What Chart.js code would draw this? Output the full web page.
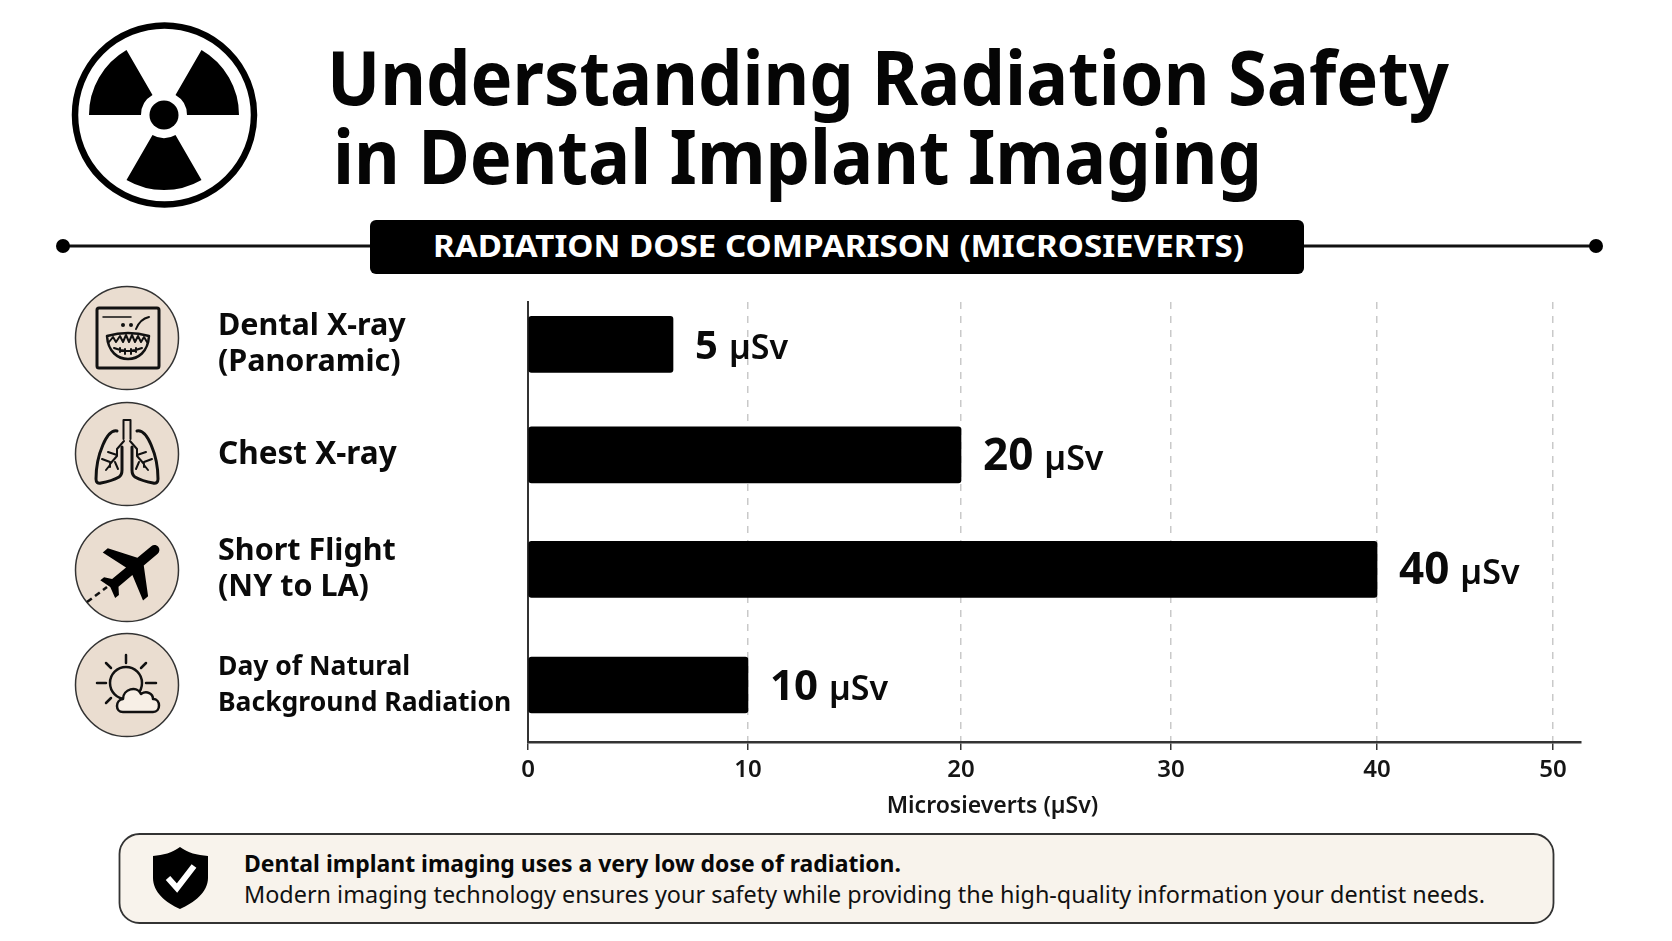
<!DOCTYPE html>
<html lang="en">
<head>
<meta charset="utf-8">
<title>Understanding Radiation Safety in Dental Implant Imaging</title>
<script src="https://cdn.jsdelivr.net/npm/chart.js@4/dist/chart.umd.js"></script>
<style>
html,body{margin:0;padding:0;background:#fff;width:1672px;height:941px;overflow:hidden}
#stage{position:relative;width:1672px;height:941px}
#stage canvas,#stage svg{position:absolute;left:0;top:0}
svg text{font-family:"Noto Sans",sans-serif}
</style>
</head>
<body>
<div id="stage">
<svg width="1672" height="941" viewBox="0 0 1672 941" xmlns="http://www.w3.org/2000/svg">
  <!-- radiation emblem -->
  <circle cx="164.5" cy="115" r="89.5" fill="none" stroke="#000" stroke-width="6.500"/>
  <circle cx="164" cy="115" r="14.5" fill="#000"/>
  <path fill="#000" d="M89 115A75 75 0 0 1 126.500 50L152.500 95.100A23 23 0 0 0 141 115Z"/>
  <path fill="#000" d="M201.500 50A75 75 0 0 1 239 115L187 115A23 23 0 0 0 175.500 95.100Z"/>
  <path fill="#000" d="M201.500 180A75 75 0 0 1 126.500 180L152.500 134.900A23 23 0 0 0 175.500 134.900Z"/>

  <text x="327" y="104.500" font-size="76" font-weight="700" fill="#050505" textLength="1122" lengthAdjust="spacingAndGlyphs">Understanding Radiation Safety</text>
  <text x="333" y="183.500" font-size="76" font-weight="700" fill="#050505" textLength="929" lengthAdjust="spacingAndGlyphs">in Dental Implant Imaging</text>

  <!-- banner -->
  <line x1="63" y1="246" x2="1596" y2="246" stroke="#111" stroke-width="3"/>
  <circle cx="63" cy="246" r="7" fill="#000"/>
  <circle cx="1596" cy="246" r="7" fill="#000"/>
  <rect x="370" y="220" width="934" height="54" rx="6" fill="#000"/>
  <text x="433" y="257" font-size="31" font-weight="700" fill="#fff" textLength="811" lengthAdjust="spacingAndGlyphs">RADIATION DOSE COMPARISON (MICROSIEVERTS)</text>

  <!-- category icons -->
  <g stroke="#333" stroke-width="1.500" fill="#eaddd0">
    <circle cx="127" cy="338" r="51.500"/>
    <circle cx="127" cy="454" r="51.500"/>
    <circle cx="127" cy="570" r="51.500"/>
    <circle cx="127" cy="685" r="51.500"/>
  </g>
  <g transform="translate(128 338)" fill="none" stroke="#111" stroke-width="2.500" stroke-linecap="round" stroke-linejoin="round">
    <rect x="-31" y="-30" width="62" height="60" rx="2" stroke-width="3"/>
    <path d="M-25 -21H3" stroke-width="1.500"/>
    <path d="M8 -9Q12 -19 21 -21" stroke-width="2"/>
    <circle cx="-5" cy="-13" r="2" fill="#111" stroke="none"/><circle cx="3" cy="-13" r="2" fill="#111" stroke="none"/>
    <path d="M-21 -2Q0 -8 21 -2C20 14 10 21 0 21C-10 21 -20 14 -21 -2Z" stroke-width="2.500"/>
    <path d="M-19 4L-15 -1L-12 4L-8 -2L-5 4L-2 -3L1 4L4 -3L7 4L10 -2L13 4L16 -1L19 4" stroke-width="2"/>
    <path d="M-14 10Q0 16 14 10M-8 10V14M-3 11V16M3 11V16M8 10V14" stroke-width="2"/>
  </g>
  <g transform="translate(127 453)" fill="none" stroke="#111" stroke-width="3" stroke-linecap="round" stroke-linejoin="round">
    <path d="M-3.500 -14V-33H3.500V-14" stroke-width="2"/>
    <path d="M-10 -22C-20 -24 -31 2 -31 26Q-31 31 -26 30Q-15 28 -8 24Q-5 22 -5 17V-6M10 -22C20 -24 31 2 31 26Q31 31 26 30Q15 28 8 24Q5 22 5 17V-6"/>
    <path d="M-3 -12L-10 -4V3L-17 11V14M-10 2L-19 -1M-17 9L-25 6M-17 12L-21 17M-12 9L-9 16M3 -12L10 -4V3L17 11V14M10 2L19 -1M17 9L25 6M17 12L21 17M12 9L9 16" stroke-width="2"/>
  </g>
  <g transform="translate(127 570)">
    <path d="M-40 32L-20 17" fill="none" stroke="#111" stroke-width="2.500" stroke-dasharray="6 4"/>
    <g transform="translate(6 -2) rotate(50) scale(3.300) translate(-11.500 -12)">
      <path fill="#000" d="M21 16v-2l-8-5V3.500c0-.83-.67-1.500-1.500-1.500S10 2.670 10 3.500V9l-8 5v2l8-2.500V19l-2 1.500V22l3.500-1 3.500 1v-1.500L13 19v-5.500l8 2.500z"/>
    </g>
  </g>
  <g transform="translate(127 685)" fill="none" stroke="#111" stroke-width="2.500" stroke-linecap="round" stroke-linejoin="round">
    <circle cx="-1" cy="-2" r="16"/>
    <path d="M-1 -30V-22M-21 -22L-16 -17M19 -22L14 -17M-30 -2H-21M19 -2H29M-21 18L-16 13" />
    <path fill="#f7efe6" d="M-4 27C-12 27 -12 15 -4 14C-4 4 10 0 14 9C20 5 26 9 26 14C34 14 34 27 26 27Z"/>
  </g>

  <!-- callout -->
  <rect x="119.500" y="834" width="1434" height="89" rx="20" fill="#f8f3ec" stroke="#333" stroke-width="1.800"/>
  <path fill="#000" d="M180 847C172 853 163 855 153 856V878C153 892 166 903 180 909C194 903 208 892 208 878V856C197 855 188 853 180 847Z"/>
  <path fill="none" stroke="#fff" stroke-width="6" d="M168 878L177 888L194 866"/>
  <text x="244" y="871.500" font-size="24" font-weight="700" fill="#080808" textLength="657" lengthAdjust="spacingAndGlyphs">Dental implant imaging uses a very low dose of radiation.</text>
  <text x="244" y="902.500" font-size="24" font-weight="400" fill="#111" textLength="1241" lengthAdjust="spacingAndGlyphs">Modern imaging technology ensures your safety while providing the high-quality information your dentist needs.</text>
</svg>
<canvas id="chart" width="1672" height="941"></canvas>
</div>
<script>
// ---- data ----
const categories = [
  ['Dental X-ray', '(Panoramic)'],
  ['Chest X-ray'],
  ['Short Flight', '(NY to LA)'],
  ['Day of Natural', 'Background Radiation']
];
const doseValues = [5, 20, 40, 10];
const tickValues = [0, 10, 20, 30, 40, 50];
const axisTitle = 'Microsieverts (\u00B5Sv)';
const unitLabel = '\u00B5Sv';
const valueFontSizes = [40, 44, 44, 42];
const categoryFontSizes = [30.5, 31.5, 30.5, 26.5];

// The reference's dose axis is not evenly spaced: these are its stops, as fractions of the axis length.
const axisStopValues = [0, 5, 10, 20, 30, 40, 50, 51.6];
const axisStopFractions = [0, 0.1377, 0.2089, 0.4112, 0.6106, 0.8063, 0.9734, 1];
// Its category rows are not evenly spaced either.
const bandCentreFractions = [0.0964, 0.3473, 0.6077, 0.8705];

class ReferenceDoseScale extends Chart.LinearScale {
  static id = 'referenceDose';
  static defaults = {};
  getPixelForValue(value) {
    let i = 1;
    while (i < axisStopValues.length - 1 && value > axisStopValues[i]) i++;
    const t = (value - axisStopValues[i - 1]) / (axisStopValues[i] - axisStopValues[i - 1]);
    return this.getPixelForDecimal(axisStopFractions[i - 1] + t * (axisStopFractions[i] - axisStopFractions[i - 1]));
  }
  drawTitle() { // the reference's axis title sits left of the plot centre
    const r = this.right;
    this.right = r - 124;
    super.drawTitle();
    this.right = r;
  }
}
class ReferenceBandScale extends Chart.CategoryScale {
  static id = 'referenceBand';
  static defaults = {};
  getPixelForValue(value) {
    if (typeof value !== 'number') value = this.parse(value);
    return value === null ? NaN : this.getPixelForDecimal(bandCentreFractions[value]);
  }
}
Chart.register(ReferenceDoseScale, ReferenceBandScale);

const valueLabels = {
  id: 'valueLabels',
  afterDatasetsDraw(chart) {
    const { ctx } = chart;
    const bars = chart.getDatasetMeta(0).data;
    ctx.save();
    ctx.textBaseline = 'alphabetic';
    ctx.textAlign = 'left';
    ctx.fillStyle = '#0a0a0a';
    bars.forEach((bar, i) => {
      const text = String(doseValues[i]);
      const x = bar.x + 22;
      const y = bar.y + 15;
      ctx.font = '700 ' + valueFontSizes[i] + 'px "Noto Sans"';
      ctx.fillText(text, x, y);
      const w = ctx.measureText(text).width;
      ctx.font = '600 34px "Noto Sans"';
      ctx.fillText(unitLabel, x + w + 11, y);
    });
    ctx.restore();
  }
};

new Chart(document.getElementById('chart'), {
  type: 'bar',
  data: {
    labels: categories,
    datasets: [{
      label: 'Radiation dose (\u00B5Sv)',
      data: doseValues,
      backgroundColor: '#000',
      borderRadius: 3,
      borderSkipped: false,
      barThickness: 56
    }]
  },
  options: {
    indexAxis: 'y',
    responsive: false,
    animation: false,
    devicePixelRatio: 1,
    layout: { padding: { left: 218, top: 302, right: 91, bottom: 119 } },
    plugins: { legend: { display: false }, title: { display: false }, tooltip: { enabled: false } },
    scales: {
      x: {
        type: 'referenceDose',
        position: 'bottom',
        min: 0,
        max: 51.6,
        afterBuildTicks(scale) { scale.ticks = tickValues.map(value => ({ value })); },
        afterFit(scale) { scale.height = 80; },
        grid: { color: '#c9c9c9', lineWidth: 1.5, tickLength: 8, tickColor: '#333', tickWidth: 1.5 },
        border: { color: '#333', width: 2.5, dash: [7, 7] },
        ticks: {
          color: '#151515',
          padding: 6,
          maxRotation: 0,
          autoSkip: false,
          font: { family: '"Noto Sans"', size: 24, weight: '600' }
        },
        title: {
          display: true,
          text: axisTitle,
          color: '#151515',
          padding: { top: 0, bottom: 2 },
          font: { family: '"Noto Sans"', size: 23, weight: '600' }
        }
      },
      y: {
        type: 'referenceBand',
        position: 'left',
        afterFit(scale) { scale.width = 310; },
        grid: { display: false },
        border: { color: '#333', width: 2 },
        ticks: {
          crossAlign: 'far',
          color: '#0a0a0a',
          autoSkip: false,
          font: ctx => ({ family: '"Noto Sans"', size: categoryFontSizes[ctx.index], weight: '700', lineHeight: '36px' })
        }
      }
    }
  },
  plugins: [valueLabels]
});
</script>
</body>
</html>
